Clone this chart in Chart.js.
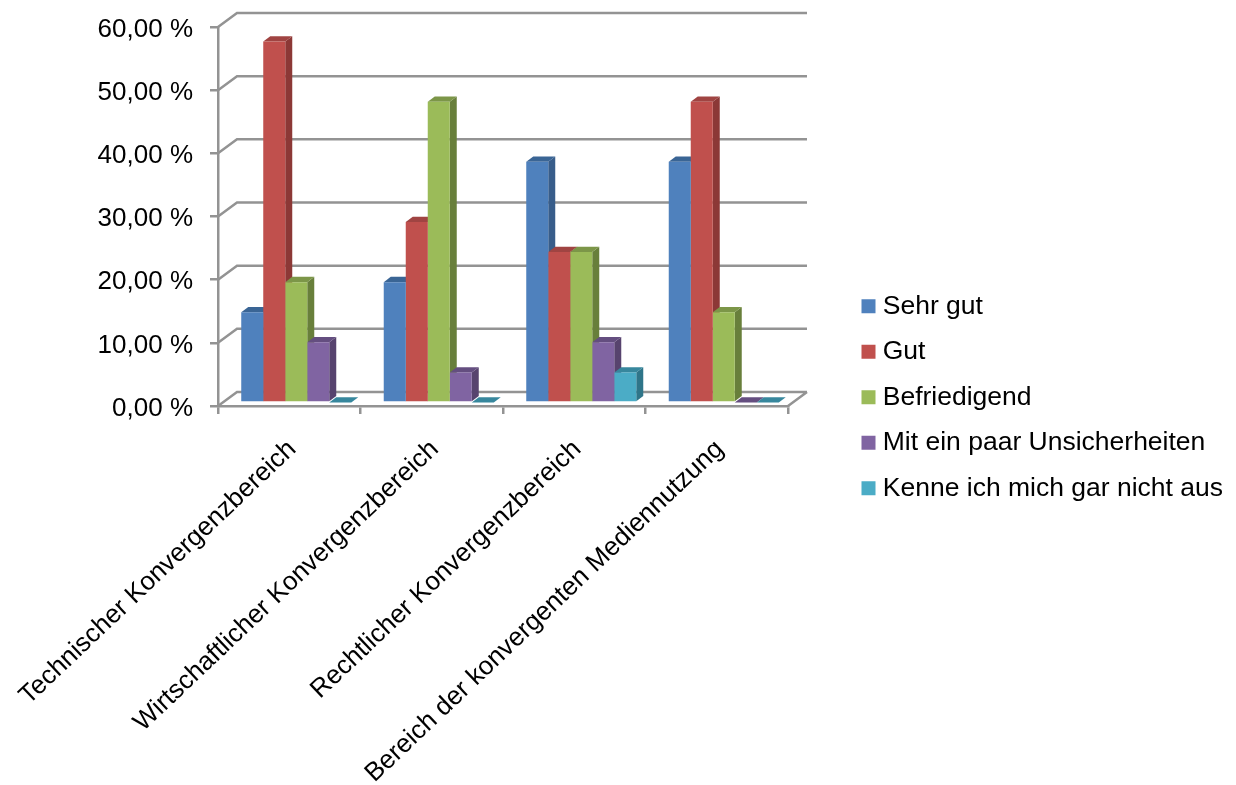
<!DOCTYPE html>
<html>
<head>
<meta charset="utf-8">
<style>
  html, body { margin: 0; padding: 0; background: #fff; overflow: hidden; }
  canvas { display: block; }
</style>
<script src="https://cdn.jsdelivr.net/npm/chart.js@4"></script>
</head>
<body>
<canvas id="chartA" width="1236" height="785"></canvas>
<script>
'use strict';

const categories = [
  'Technischer Konvergenzbereich',
  'Wirtschaftlicher Konvergenzbereich',
  'Rechtlicher Konvergenzbereich',
  'Bereich der konvergenten Mediennutzung'
];
const sehrGut = [14.29, 19.05, 38.10, 38.10];
const gut = [57.14, 28.57, 23.81, 47.62];
const befriedigend = [19.05, 47.62, 23.81, 14.29];
const unsicher = [9.52, 4.76, 9.52, 0];
const kenneNicht = [0, 0, 4.76, 0];
const yTicks = [0, 10, 20, 30, 40, 50, 60];

const gridColor = '#939393';
const fontName = '"Liberation Sans", Arial, sans-serif';

// wall depth of the fake 3d box, and where bars stand on its floor
const wallDx = 19, wallDy = -14;
const barDx = 7, barDy = -3.5;
const sideDx = 7, sideDy = -5.3;

function faces(ctx, bar, sideColor, topColor) {
  const left = bar.x - bar.width / 2;
  const right = bar.x + bar.width / 2;
  const top = bar.y;
  const bottom = bar.base;
  ctx.fillStyle = sideColor;
  ctx.beginPath();
  ctx.moveTo(right, top);
  ctx.lineTo(right + sideDx, top + sideDy);
  ctx.lineTo(right + sideDx, bottom + sideDy);
  ctx.lineTo(right, bottom);
  ctx.closePath();
  ctx.fill();
  ctx.fillStyle = topColor;
  ctx.beginPath();
  ctx.moveTo(left, top);
  ctx.lineTo(left + sideDx, top + sideDy);
  ctx.lineTo(right + sideDx, top + sideDy);
  ctx.lineTo(right, top);
  ctx.closePath();
  ctx.fill();
}

const box3d = {
  id: 'box3d',
  afterLayout(chart) {
    // legend sits further right than the layout would leave it
    chart.legend.left = 848.5;
    chart.legend.right = 1236;
    chart.legend.top = 274;
    chart.legend.bottom = 785;
  },
  beforeDatasetsDraw(chart) {
    const ctx = chart.ctx;
    const x = chart.scales.x, y = chart.scales.y;
    ctx.save();
    // back wall
    ctx.strokeStyle = gridColor;
    ctx.lineWidth = 2.5;
    ctx.beginPath();
    yTicks.forEach(v => {
      const py = y.getPixelForValue(v);
      ctx.moveTo(x.left, py);
      ctx.lineTo(x.left + wallDx, py + wallDy);
      ctx.lineTo(x.right + wallDx, py + wallDy);
    });
    ctx.moveTo(x.right, y.bottom);
    ctx.lineTo(x.right + wallDx, y.bottom + wallDy);
    ctx.stroke();
    // side and top faces go under all the front faces
    ctx.translate(barDx, barDy);
    chart.data.datasets.forEach((ds, i) => {
      chart.getDatasetMeta(i).data.forEach(bar => faces(ctx, bar, ds.sideColor, ds.topColor));
    });
  },
  afterDatasetsDraw(chart) {
    chart.ctx.restore();
  }
};

new Chart(document.getElementById('chartA'), {
  type: 'bar',
  data: {
    labels: categories,
    datasets: [
      {label: 'Sehr gut', data: sehrGut, backgroundColor: '#4f81bd', sideColor: '#385d8a', topColor: '#3a6595'},
      {label: 'Gut', data: gut, backgroundColor: '#c0504d', sideColor: '#8c3836', topColor: '#a04442'},
      {label: 'Befriedigend', data: befriedigend, backgroundColor: '#9bbb59', sideColor: '#687f3b', topColor: '#7c9648'},
      {label: 'Mit ein paar Unsicherheiten', data: unsicher, backgroundColor: '#8064a2', sideColor: '#57436e', topColor: '#644e80'},
      {label: 'Kenne ich mich gar nicht aus', data: kenneNicht, backgroundColor: '#4bacc6', sideColor: '#2f7589', topColor: '#37879d'}
    ]
  },
  options: {
    responsive: false,
    animation: false,
    clip: false,
    layout: {padding: {top: 27, right: 185.33, left: 0, bottom: 0}},
    datasets: {bar: {barPercentage: 1, categoryPercentage: 0.772}},
    scales: {
      x: {
        offset: true,
        grid: {drawOnChartArea: false, offset: true, color: gridColor, lineWidth: 2.5, tickLength: 8},
        border: {color: gridColor, width: 2.5},
        ticks: {autoSkip: false, minRotation: 43.5, maxRotation: 43.5, color: '#000', padding: 20, labelOffset: 3, font: {family: fontName, size: 26}},
        afterFit(scale) {
          scale.height = 379;
          scale.paddingLeft = 0;
          scale.paddingRight = 0;
        }
      },
      y: {
        min: 0,
        max: 60,
        grid: {drawOnChartArea: false, color: gridColor, lineWidth: 2.5, tickLength: 8},
        border: {color: gridColor, width: 2.5},
        ticks: {
          stepSize: 10,
          color: '#000',
          padding: 17,
          labelOffset: 2.5,
          font: {family: fontName, size: 26},
          callback: v => v.toFixed(2).replace('.', ',') + ' %'
        },
        afterFit(scale) {
          scale.width = 218;
          scale.paddingTop = 0;
          scale.paddingBottom = 0;
        }
      }
    },
    plugins: {
      tooltip: {enabled: false},
      legend: {
        position: 'right',
        align: 'start',
        labels: {
          boxWidth: 2,
          boxHeight: 14,
          usePointStyle: true,
          pointStyle: 'rect',
          padding: 19,
          color: '#000',
          font: {family: fontName, size: 26.5}
        }
      }
    }
  },
  plugins: [box3d]
});
</script>
</body>
</html>
